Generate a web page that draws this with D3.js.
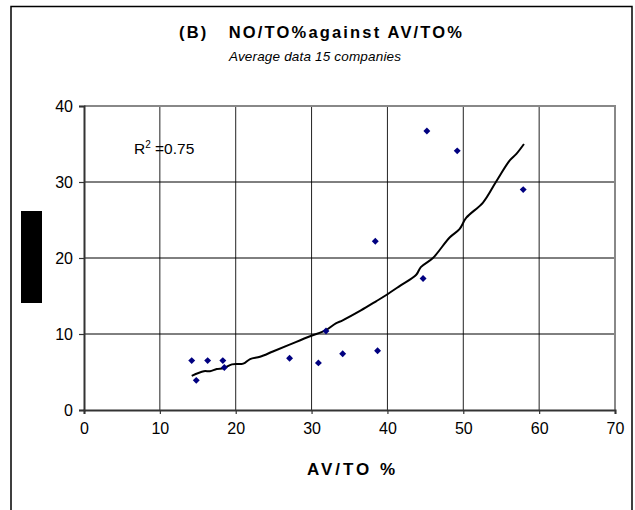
<!DOCTYPE html>
<html>
<head>
<meta charset="utf-8">
<script src="https://cdn.jsdelivr.net/npm/d3@7"></script>
<style>
  body { margin: 0; background: #fff; }
  svg { display: block; font-family: "Liberation Sans", Arial, sans-serif; }
</style>
</head>
<body>
<div id="chart"></div>
<script>
// data
var avto = [14.2, 14.8, 16.3, 18.3, 18.5, 27.1, 30.9, 31.9, 34.1, 38.4, 38.7, 44.7, 45.2, 49.2, 57.9];
var noto = [6.5, 3.9, 6.5, 6.5, 5.6, 6.8, 6.2, 10.4, 7.4, 22.2, 7.8, 17.3, 36.7, 34.1, 29.0];

// trend line as drawn
var trendX = [14.2, 15.8, 16.6, 17.5, 18.4, 19.5, 21.0, 21.9, 23.2, 24.9, 27.1, 29.8, 31.9, 33.2, 34.1, 36.5, 38.5, 39.8, 41.6, 43.8, 44.4, 46.0, 48.2, 49.5, 50.4, 52.6, 54.3, 56.1, 57.0, 58.0];
var trendY = [4.5, 5.1, 5.1, 5.4, 5.5, 6.0, 6.1, 6.7, 7.0, 7.7, 8.6, 9.7, 10.5, 11.4, 11.8, 13.1, 14.3, 15.1, 16.3, 17.8, 18.8, 20.0, 22.7, 23.8, 25.3, 27.3, 30.0, 32.8, 33.7, 35.0];

var xTicks = [0, 10, 20, 30, 40, 50, 60, 70];
var yTicks = [0, 10, 20, 30, 40];

var W = 635, H = 510;
var plotL = 84, plotR = 615, plotT = 106, plotB = 410;

var svg = d3.select("#chart").append("svg")
    .attr("width", W)
    .attr("height", H);

// outer frame
svg.append("rect")
    .attr("x", 11).attr("y", 6.5)
    .attr("width", 621).attr("height", 520)
    .attr("fill", "none")
    .attr("stroke", "#000")
    .attr("stroke-width", 1.5);

var x = d3.scaleLinear().domain([0, 70]).range([plotL, plotR]);
var y = d3.scaleLinear().domain([0, 40]).range([plotB, plotT]);

// gridlines
svg.append("g").selectAll("line")
    .data(xTicks.slice(1, -1))
    .enter().append("line")
      .attr("x1", function(d) { return x(d); })
      .attr("x2", function(d) { return x(d); })
      .attr("y1", plotT).attr("y2", plotB)
      .attr("stroke", "#222").attr("stroke-width", 1);

svg.append("g").selectAll("line")
    .data(yTicks.slice(1, -1))
    .enter().append("line")
      .attr("x1", plotL).attr("x2", plotR)
      .attr("y1", function(d) { return y(d); })
      .attr("y2", function(d) { return y(d); })
      .attr("stroke", "#000").attr("stroke-width", 1);

// plot area border (grey top / right)
svg.append("path")
    .attr("d", "M" + plotL + "," + plotT + "H" + plotR + "V" + plotB)
    .attr("fill", "none")
    .attr("stroke", "#888")
    .attr("stroke-width", 2);

// axes
var xAxis = d3.axisBottom(x).tickValues(xTicks).tickSize(4).tickPadding(9);
var yAxis = d3.axisLeft(y).tickValues(yTicks).tickSize(5).tickPadding(6);

var gx = svg.append("g")
    .attr("transform", "translate(0," + plotB + ")")
    .call(xAxis);
var gy = svg.append("g")
    .attr("transform", "translate(" + plotL + ",0)")
    .call(yAxis);

[gx, gy].forEach(function(g) {
  g.select(".domain").attr("stroke", "#333").attr("stroke-width", 2);
  g.selectAll(".tick line").attr("stroke", "#333").attr("stroke-width", 1.2);
  g.selectAll(".tick text")
    .attr("fill", "#000")
    .style("font-family", "'Liberation Sans', Arial, sans-serif")
    .style("font-size", "16px");
});

// trend line
var line = d3.line()
    .x(function(d) { return x(d[0]); })
    .y(function(d) { return y(d[1]); })
    .curve(d3.curveCatmullRom);

svg.append("path")
    .datum(d3.zip(trendX, trendY))
    .attr("d", line)
    .attr("fill", "none")
    .attr("stroke", "#000")
    .attr("stroke-width", 2);

// points
svg.append("g").selectAll("path")
    .data(d3.zip(avto, noto))
    .enter().append("path")
      .attr("d", d3.symbol().type(d3.symbolSquare).size(24))
      .attr("transform", function(d) { return "translate(" + x(d[0]) + "," + y(d[1]) + ") rotate(45)"; })
      .attr("fill", "#000080");

// R squared
var r2 = svg.append("text")
    .attr("x", 134).attr("y", 154)
    .style("font-size", "15.5px");
r2.append("tspan").text("R");
r2.append("tspan").attr("dy", -6).style("font-size", "10px").text("2");
r2.append("tspan").attr("dy", 6).text(" =0.75");

// black box over the y title
svg.append("rect")
    .attr("x", 21).attr("y", 211)
    .attr("width", 21).attr("height", 92)
    .attr("fill", "#000");

// titles
svg.append("text")
    .attr("x", 179).attr("y", 38)
    .attr("textLength", 283)
    .attr("lengthAdjust", "spacing")
    .style("font-size", "16.5px")
    .style("font-weight", "bold")
    .style("white-space", "pre")
    .text("(B)   NO/TO%against AV/TO%");

svg.append("text")
    .attr("x", 229).attr("y", 61)
    .attr("textLength", 172)
    .attr("lengthAdjust", "spacing")
    .style("font-size", "13.5px")
    .style("font-style", "italic")
    .text("Average data 15 companies");

svg.append("text")
    .attr("x", 307).attr("y", 475)
    .attr("textLength", 88)
    .attr("lengthAdjust", "spacing")
    .style("font-size", "17px")
    .style("font-weight", "bold")
    .text("AV/TO %");
</script>
</body>
</html>
